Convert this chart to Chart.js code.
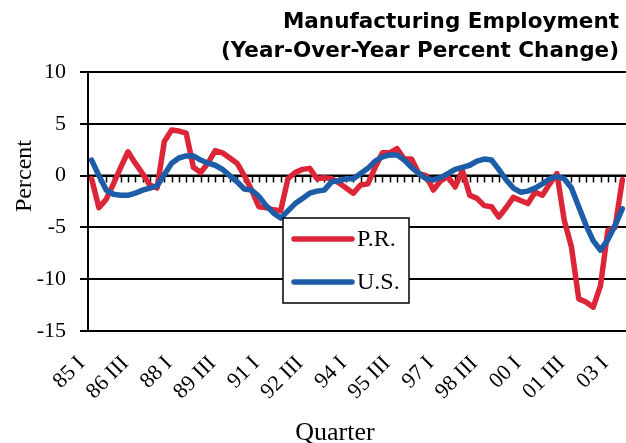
<!DOCTYPE html>
<html>
<head>
<meta charset="utf-8">
<script src="https://cdn.jsdelivr.net/npm/chart.js@4"></script>
<style>
  html, body { margin: 0; padding: 0; background: #fff; }
  #wrap { width: 626px; height: 443px; }
</style>
</head>
<body>
<div id="wrap"><canvas id="mfgChart" width="626" height="443"></canvas></div>
<script>
// Quarterly labels, 1985 Q1 through 2003 Q2
const quarters = [
  '85 I','85 II','85 III','85 IV','86 I','86 II','86 III','86 IV',
  '87 I','87 II','87 III','87 IV','88 I','88 II','88 III','88 IV',
  '89 I','89 II','89 III','89 IV','90 I','90 II','90 III','90 IV',
  '91 I','91 II','91 III','91 IV','92 I','92 II','92 III','92 IV',
  '93 I','93 II','93 III','93 IV','94 I','94 II','94 III','94 IV',
  '95 I','95 II','95 III','95 IV','96 I','96 II','96 III','96 IV',
  '97 I','97 II','97 III','97 IV','98 I','98 II','98 III','98 IV',
  '99 I','99 II','99 III','99 IV','00 I','00 II','00 III','00 IV',
  '01 I','01 II','01 III','01 IV','02 I','02 II','02 III','02 IV',
  '03 I','03 II'
];

// Year-over-year % change in manufacturing employment
const prChange = [
  -0.3, -3.1, -2.3, -0.8, 0.8, 2.3, 1.2, 0.2, -0.9, -1.2,
  3.3, 4.4, 4.3, 4.1, 0.8, 0.3, 1.2, 2.4, 2.2, 1.7,
  1.2, 0.0, -1.4, -3.0, -3.1, -3.3, -3.4, -0.3, 0.3, 0.6,
  0.7, -0.3, -0.2, -0.3, -0.7, -1.2, -1.7, -0.9, -0.8, 0.8,
  2.2, 2.2, 2.6, 1.6, 1.6, 0.2, 0.0, -1.4, -0.5, -0.1,
  -1.1, 0.5, -1.9, -2.2, -2.9, -3.0, -4.0, -3.1, -2.1, -2.4,
  -2.7, -1.6, -1.9, -0.8, 0.2, -4.3, -6.9, -11.9, -12.2, -12.7,
  -10.6, -5.3, -5.0, -0.4
];
const usChange = [
  1.5, 0.0, -1.4, -1.8, -1.9, -1.9, -1.7, -1.4, -1.2, -1.0,
  0.1, 1.2, 1.7, 1.9, 1.9, 1.5, 1.2, 1.0, 0.6, 0.0,
  -0.6, -1.3, -1.4, -2.0, -2.9, -3.6, -4.1, -3.4, -2.7, -2.2,
  -1.7, -1.5, -1.4, -0.6, -0.5, -0.3, -0.3, 0.2, 0.7, 1.4,
  1.8, 2.0, 2.0, 1.5, 0.8, 0.2, -0.3, -0.4, -0.2, 0.2,
  0.6, 0.8, 1.0, 1.4, 1.6, 1.5, 0.6, -0.4, -1.2, -1.6,
  -1.5, -1.2, -0.8, -0.3, -0.1, -0.3, -1.2, -3.0, -4.8, -6.3,
  -7.2, -6.2, -4.8, -3.2
];
const yTicks = [10, 5, 0, -5, -10, -15];

const serif = '"Liberation Serif", "Times New Roman", serif';
const sans = '"DejaVu Sans", sans-serif';

// two-line title, right aligned, plus both axis captions
const captions = {
  id: 'captions',
  afterDraw(chart) {
    const { ctx } = chart;
    ctx.save();
    ctx.fillStyle = '#000';
    ctx.textAlign = 'right';
    ctx.textBaseline = 'alphabetic';
    ctx.font = 'bold 21.5px ' + sans;
    ctx.fillText('Manufacturing Employment', 619, 28);
    ctx.fillText('(Year-Over-Year Percent Change)', 619, 57);
    ctx.textAlign = 'center';
    ctx.font = '26px ' + serif;
    ctx.fillText('Quarter', 335, 440);
    ctx.font = '24px ' + serif;
    ctx.textBaseline = 'middle';
    ctx.translate(25, 176);
    ctx.rotate(-Math.PI / 2);
    ctx.fillText('Percent', 0, 0);
    ctx.restore();
  }
};

// zero line with small downward tick marks at every quarter
const zeroAxis = {
  id: 'zeroAxis',
  beforeDatasetsDraw(chart) {
    const { ctx, chartArea, scales: { x, y } } = chart;
    const y0 = y.getPixelForValue(0);
    ctx.save();
    ctx.strokeStyle = '#000';
    ctx.lineWidth = 2;
    ctx.beginPath();
    ctx.moveTo(chartArea.left, y0);
    ctx.lineTo(chartArea.right, y0);
    ctx.stroke();
    ctx.lineWidth = 1.5;
    ctx.beginPath();
    for (let i = 0; i < quarters.length; i++) {
      const px = Math.round(x.getPixelForValue(i)) + 0.5;
      ctx.moveTo(px, y0);
      ctx.lineTo(px, y0 + 7);
    }
    ctx.stroke();
    ctx.restore();
  }
};

// boxed legend sitting inside the plot
const boxLegend = {
  id: 'boxLegend',
  afterDraw(chart) {
    const { ctx } = chart;
    const bx = 283, by = 218, bw = 126, bh = 85;
    ctx.save();
    ctx.fillStyle = '#fff';
    ctx.fillRect(bx, by, bw, bh);
    ctx.strokeStyle = '#000';
    ctx.lineWidth = 1.5;
    ctx.strokeRect(bx, by, bw, bh);
    ctx.font = '24px ' + serif;
    ctx.textBaseline = 'middle';
    chart.data.datasets.forEach((ds, i) => {
      const ly = by + 21 + i * 43;
      ctx.strokeStyle = ds.borderColor;
      ctx.lineWidth = 5.5;
      ctx.lineCap = 'round';
      ctx.beginPath();
      ctx.moveTo(bx + 11, ly);
      ctx.lineTo(bx + 69, ly);
      ctx.stroke();
      ctx.fillStyle = '#000';
      ctx.fillText(ds.label, bx + 74, ly + 1);
    });
    ctx.restore();
  }
};

new Chart(document.getElementById('mfgChart'), {
  type: 'line',
  data: {
    labels: quarters,
    datasets: [
      {
        label: 'P.R.',
        data: prChange,
        borderColor: '#DC2537',
        borderWidth: 5.5,
        pointRadius: 0,
        tension: 0,
        borderJoinStyle: 'round',
        borderCapStyle: 'round',
        order: 2
      },
      {
        label: 'U.S.',
        data: usChange,
        borderColor: '#1D5CA6',
        borderWidth: 5.5,
        pointRadius: 0,
        tension: 0,
        borderJoinStyle: 'round',
        borderCapStyle: 'round',
        order: 1
      }
    ]
  },
  options: {
    responsive: false,
    animation: false,
    layout: { padding: { left: 0, right: 0, top: 72, bottom: 0 } },
    plugins: {
      legend: { display: false },
      tooltip: { enabled: false },
      title: { display: false }
    },
    scales: {
      x: {
        offset: true,
        grid: { display: false, drawTicks: false },
        border: { display: false },
        ticks: {
          autoSkip: false,
          minRotation: 45,
          maxRotation: 45,
          padding: 20,
          labelOffset: -10,
          color: '#000',
          font: { family: serif, size: 22 },
          callback(value, index) {
            return index % 6 === 0 ? this.getLabelForValue(value) : '';
          }
        },
        afterFit(scale) {
          scale.height = 112;
          scale.paddingLeft = 0;
          scale.paddingRight = 0;
        }
      },
      y: {
        min: -15,
        max: 10,
        afterBuildTicks(scale) { scale.ticks = yTicks.map(v => ({ value: v })); },
        grid: {
          color: '#000',
          lineWidth: 2,
          tickLength: 8,
          drawOnChartArea: true
        },
        border: { display: true, color: '#000', width: 2 },
        ticks: {
          padding: 14,
          color: '#000',
          font: { family: serif, size: 22 }
        },
        afterFit(scale) {
          scale.width = 88;
          scale.paddingTop = 0;
          scale.paddingBottom = 0;
        }
      }
    }
  },
  plugins: [zeroAxis, boxLegend, captions]
});
</script>
</body>
</html>
